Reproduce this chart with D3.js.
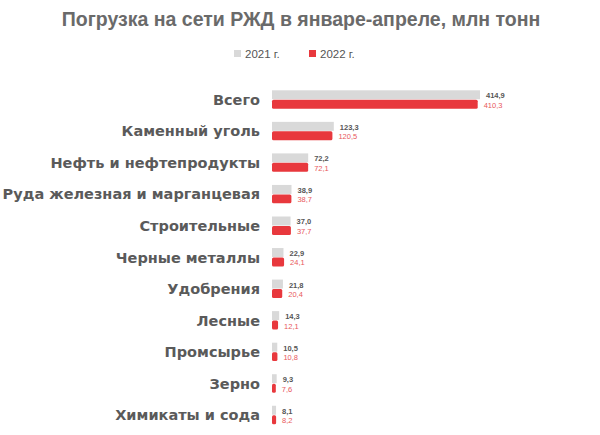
<!DOCTYPE html>
<html><head><meta charset="utf-8">
<script src="https://cdn.jsdelivr.net/npm/d3@7"></script>
<style>body{margin:0;background:#fff}svg{display:block;font-family:"Liberation Sans",Arial,sans-serif}</style>
</head><body><svg id="c" width="600" height="435"></svg>
<script>
const categories = ["Всего","Каменный уголь","Нефть и нефтепродукты","Руда железная и марганцевая","Строительные","Черные металлы","Удобрения","Лесные","Промсырье","Зерно","Химикаты и сода"];
const values2021 = [414.9,123.3,72.2,38.9,37.0,22.9,21.8,14.3,10.5,9.3,8.1];
const values2022 = [410.3,120.5,72.1,38.7,37.7,24.1,20.4,12.1,10.8,7.6,8.2];
const seriesNames = ["2021 г.","2022 г."];
const colors = ["#d9d9d9","#e8383d"];
const valueColors = ["#555","#e8585c"];

const svg = d3.select("#c");
const fmt = v => d3.format(".1f")(v).replace(".", ",");

svg.append("text").attr("x",301).attr("y",26).attr("text-anchor","middle")
  .attr("font-size",19.5).attr("font-weight","bold").attr("fill","#6a6a6a")
  .text("Погрузка на сети РЖД в январе-апреле, млн тонн");

// legend
const leg = [{x:234,name:seriesNames[0],c:colors[0]},{x:309,name:seriesNames[1],c:colors[1]}];
leg.forEach(l=>{
  svg.append("rect").attr("x",l.x).attr("y",50).attr("width",7).attr("height",7).attr("fill",l.c);
  svg.append("text").attr("x",l.x+11).attr("y",57.5).attr("font-size",11.5).attr("fill","#555").text(l.name);
});

const x0 = 272;
const x = d3.scaleLinear().domain([0,414.9]).range([x0,480]);
const y = d3.scaleBand().domain(categories).range([84,431]).paddingInner(0.4).paddingOuter(0.2);
const bh = y.bandwidth()/2;

const g = svg.append("g");
categories.forEach((c,i)=>{
  const yt = y(c);
  g.append("text").attr("x",260).attr("y",yt+bh+5).attr("text-anchor","end")
    .attr("font-family","DejaVu Sans, sans-serif")
    .attr("font-size",14.5).attr("font-weight","bold").attr("fill","#5a5a5a").text(c);
  [values2021[i],values2022[i]].forEach((v,k)=>{
    g.append("rect").attr("x",x0).attr("y",yt+k*bh).attr("width",x(v)-x0).attr("height",bh-0.5)
      .attr("rx",k?1.5:0).attr("fill",colors[k]);
    g.append("text").attr("x",x(v)+6).attr("y",yt+k*bh+bh-1.5).attr("font-size",7.5)
      .attr("font-weight",k?"normal":"bold").attr("fill",valueColors[k]).text(fmt(v));
  });
});
</script></body></html>
